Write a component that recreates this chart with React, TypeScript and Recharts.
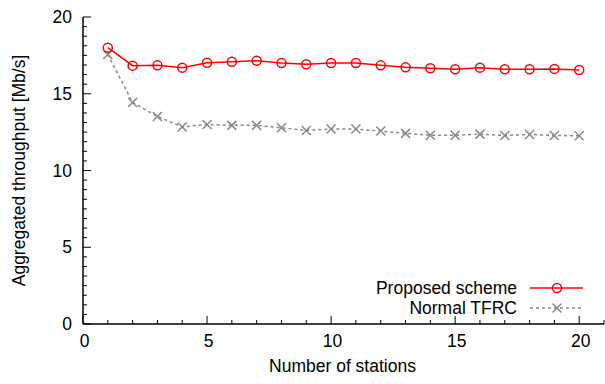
import React from 'react';
import { LineChart, Line, XAxis, YAxis } from 'recharts';

const stations = [1, 2, 3, 4, 5, 6, 7, 8, 9, 10, 11, 12, 13, 14, 15, 16, 17, 18, 19, 20];
const proposed = [18.0, 16.83, 16.85, 16.7, 17.02, 17.09, 17.15, 17.0, 16.92, 17.0, 17.0, 16.85, 16.72, 16.66, 16.6, 16.7, 16.6, 16.6, 16.62, 16.55];
const normalTfrc = [17.56, 14.43, 13.52, 12.84, 13.0, 12.94, 12.94, 12.78, 12.61, 12.7, 12.7, 12.57, 12.42, 12.3, 12.3, 12.37, 12.28, 12.35, 12.28, 12.26];

const xMajorTicks = [0, 5, 10, 15, 20];
const xMinorTicks = [0, 1, 2, 3, 4, 5, 6, 7, 8, 9, 10, 11, 12, 13, 14, 15, 16, 17, 18, 19, 20, 21];
const yMajorTicks = [0, 5, 10, 15, 20];
// gnuplot put 8 minor intervals between majors
const yMinorTicks = yMajorTicks.flatMap((v, i) =>
  i === yMajorTicks.length - 1 ? [v] : [0, 1, 2, 3, 4, 5, 6, 7].map(k => v + (k * 5) / 8)
);

const SERIES_PROPOSED = 'Proposed scheme';
const SERIES_TFRC = 'Normal TFRC';

const data = stations.map((s, i) => ({
  stations: s,
  proposed: proposed[i],
  tfrc: normalTfrc[i],
}));

const FONT = '"Liberation Sans", Arial, Helvetica, sans-serif';
const FS = 17.5;
const RED = '#ff0000';
const GRAY = '#888888';

const isMajor = (v: number, majors: number[]) => majors.some(m => Math.abs(m - v) < 1e-6);

const CircleDot = (props: any) => {
  const { cx, cy } = props;
  if (cx == null || cy == null) return null;
  return <circle cx={cx} cy={cy} r={4.5} fill="none" stroke={RED} strokeWidth={1.5} />;
};

const CrossDot = (props: any) => {
  const { cx, cy } = props;
  if (cx == null || cy == null) return null;
  const s = 4.5;
  return (
    <g stroke={GRAY} strokeWidth={1.5}>
      <line x1={cx - s} y1={cy - s} x2={cx + s} y2={cy + s} />
      <line x1={cx - s} y1={cy + s} x2={cx + s} y2={cy - s} />
    </g>
  );
};

const BottomTick = (props: any) => {
  const { x, y, payload } = props;
  const major = isMajor(payload.value, xMajorTicks);
  return (
    <g>
      <line x1={x} y1={y} x2={x} y2={y - (major ? 8 : 4)} stroke="#000" strokeWidth={1} />
      {major && (
        <text x={x + 1.5} y={y + 23} textAnchor="middle" fontFamily={FONT} fontSize={FS} fill="#000">
          {payload.value}
        </text>
      )}
    </g>
  );
};

const TopTick = (props: any) => {
  const { x, y, payload } = props;
  const major = isMajor(payload.value, xMajorTicks);
  return <line x1={x} y1={y} x2={x} y2={y + (major ? 8 : 4)} stroke="#000" strokeWidth={1} />;
};

const LeftTick = (props: any) => {
  const { x, y, payload } = props;
  const major = isMajor(payload.value, yMajorTicks);
  return (
    <g>
      <line x1={x} y1={y} x2={x + (major ? 8 : 4)} y2={y} stroke="#000" strokeWidth={1} />
      {major && (
        <text x={x - 11} y={y + 6} textAnchor="end" fontFamily={FONT} fontSize={FS} fill="#000">
          {payload.value}
        </text>
      )}
    </g>
  );
};

const RightTick = (props: any) => {
  const { x, y, payload } = props;
  const major = isMajor(payload.value, yMajorTicks);
  return <line x1={x} y1={y} x2={x - (major ? 8 : 4)} y2={y} stroke="#000" strokeWidth={1} />;
};

function LegendOverlay() {
  const rows = [
    { name: SERIES_PROPOSED, y: 288, color: RED, dash: undefined, marker: 'circle' },
    { name: SERIES_TFRC, y: 308, color: GRAY, dash: '3 3', marker: 'cross' },
  ];
  return (
    <svg width={605} height={384} style={{ position: 'absolute', left: 0, top: 0, pointerEvents: 'none' }}>
      {rows.map(r => (
        <g key={r.name}>
          <text x={517} y={r.y + 6} textAnchor="end" fontFamily={FONT} fontSize={FS} fill="#000">
            {r.name}
          </text>
          <line x1={530} y1={r.y} x2={583} y2={r.y} stroke={r.color} strokeWidth={1.5} strokeDasharray={r.dash} />
          {r.marker === 'circle' ? <CircleDot cx={557} cy={r.y} /> : <CrossDot cx={557} cy={r.y} />}
        </g>
      ))}
    </svg>
  );
}

export default function App() {
  return (
    <div style={{ position: 'fixed', left: 0, top: 0, width: 605, height: 384, background: '#fff' }}>
      <LineChart width={605} height={384} data={data} margin={{ top: 17, right: 1, bottom: 0, left: 0 }}>
        <XAxis
          xAxisId="bottom"
          dataKey="stations"
          type="number"
          domain={[0, 21]}
          ticks={xMinorTicks}
          interval={0}
          height={60}
          tickSize={0}
          tickMargin={0}
          tick={<BottomTick />}
          axisLine={{ stroke: '#000', strokeWidth: 1.5 }}
          label={{
            content: ({ viewBox }: any) => (
              <text
                x={viewBox.x + viewBox.width / 2 - 1}
                y={viewBox.y + 48}
                textAnchor="middle"
                fontFamily={FONT}
                fontSize={FS}
                fill="#000"
              >
                Number of stations
              </text>
            ),
          }}
        />
        <XAxis
          xAxisId="top"
          orientation="top"
          dataKey="stations"
          type="number"
          domain={[0, 21]}
          ticks={xMinorTicks}
          interval={0}
          height={0}
          tickSize={0}
          tickMargin={0}
          tick={<TopTick />}
          axisLine={{ stroke: '#000', strokeWidth: 1.5 }}
        />
        <YAxis
          yAxisId="left"
          type="number"
          domain={[0, 20]}
          ticks={yMinorTicks}
          interval={0}
          width={83}
          tickSize={0}
          tickMargin={0}
          tick={<LeftTick />}
          axisLine={{ stroke: '#000', strokeWidth: 1.5 }}
          label={{
            content: ({ viewBox }: any) => {
              const cx = viewBox.x + 19;
              const cy = viewBox.y + viewBox.height / 2;
              return (
                <text
                  x={cx}
                  y={cy}
                  transform={`rotate(-90 ${cx} ${cy})`}
                  textAnchor="middle"
                  dominantBaseline="central"
                  fontFamily={FONT}
                  fontSize={FS}
                  fill="#000"
                >
                  Aggregated throughput [Mb/s]
                </text>
              );
            },
          }}
        />
        <YAxis
          yAxisId="right"
          orientation="right"
          type="number"
          domain={[0, 20]}
          ticks={yMinorTicks}
          interval={0}
          width={0}
          tickSize={0}
          tickMargin={0}
          tick={<RightTick />}
          axisLine={{ stroke: '#000', strokeWidth: 1.5 }}
        />
        <Line
          xAxisId="bottom"
          yAxisId="left"
          dataKey="tfrc"
          name={SERIES_TFRC}
          stroke={GRAY}
          strokeWidth={1.5}
          strokeDasharray="3 3"
          dot={<CrossDot />}
          isAnimationActive={false}
        />
        <Line
          xAxisId="bottom"
          yAxisId="left"
          dataKey="proposed"
          name={SERIES_PROPOSED}
          stroke={RED}
          strokeWidth={1.5}
          dot={<CircleDot />}
          isAnimationActive={false}
        />
      </LineChart>
      <LegendOverlay />
    </div>
  );
}
